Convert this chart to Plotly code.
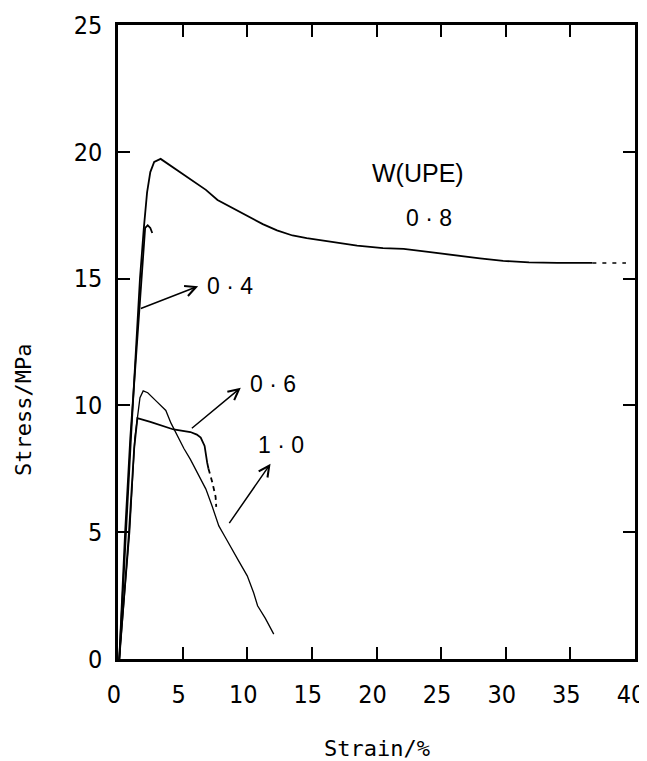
import plotly.graph_objects as go

# ---- data ----
s08_x = [0.1, 0.6, 1.0, 1.4, 1.7, 2.0, 2.25, 2.5, 2.8, 3.3, 4.2, 5.6, 6.8, 7.7, 8.8, 10.0,
         11.2, 12.3, 13.5, 14.6, 16.4, 17.2, 18.5, 20.5, 22.1, 24.0, 26.2, 28.0, 29.8, 31.8, 34.0, 36.7]
s08_y = [0.0, 5.0, 8.7, 12.3, 15.0, 17.0, 18.4, 19.2, 19.6, 19.72, 19.4, 18.9, 18.5, 18.1, 17.8, 17.45,
         17.15, 16.9, 16.7, 16.6, 16.45, 16.4, 16.3, 16.2, 16.17, 16.05, 15.9, 15.8, 15.7, 15.64, 15.62, 15.62]
s08_tail_x = [36.7, 39.3]
s08_tail_y = [15.62, 15.62]

s04_x = [0.1, 0.55, 0.95, 1.65, 2.1, 2.3, 2.5, 2.65]
s04_y = [0.0, 5.0, 8.7, 13.8, 17.0, 17.1, 17.0, 16.8]

s06_x = [0.1, 0.85, 1.25, 1.5, 2.5, 3.5, 4.3, 5.6, 6.1, 6.4, 6.7, 6.9, 7.0]
s06_y = [0.0, 5.0, 8.3, 9.5, 9.35, 9.2, 9.05, 8.95, 8.85, 8.73, 8.4, 7.74, 7.5]
s06_tail_x = [7.0, 7.3, 7.55, 7.6]
s06_tail_y = [7.5, 6.96, 6.4, 6.0]

s10_x = [0.1, 0.9, 1.3, 1.7, 1.95, 2.3, 3.0, 3.7, 4.1, 4.6, 5.1, 5.6, 6.2, 6.8, 7.3, 7.8,
         8.3, 8.7, 9.3, 10.0, 10.5, 10.8, 11.4, 12.05]
s10_y = [0.0, 5.0, 8.7, 10.3, 10.57, 10.5, 10.15, 9.8, 9.3, 8.79, 8.3, 7.87, 7.3, 6.7, 6.0, 5.25,
         4.8, 4.46, 3.9, 3.28, 2.6, 2.1, 1.6, 0.98]

x_ticks = [0, 5, 10, 15, 20, 25, 30, 35, 40]
y_ticks = [0, 5, 10, 15, 20, 25]

labels = ["0 · 4", "0 · 6", "1 · 0"]
label_x = [8.7, 12.0, 12.6]
label_y = [14.72, 10.83, 8.43]
arrow_tail_x = [1.65, 5.6, 8.53]
arrow_tail_y = [13.8, 9.05, 5.3]
arrow_head_x = [6.2, 9.5, 11.8]
arrow_head_y = [14.7, 10.7, 7.7]

line_style = dict(color="black", width=1.8)

fig = go.Figure()
fig.add_trace(go.Scatter(x=s08_x, y=s08_y, mode="lines", line=line_style, name="0.8"))
fig.add_trace(go.Scatter(x=s08_tail_x, y=s08_tail_y, mode="lines",
                         line=dict(color="black", width=1.5, dash="4px,6px"), name="0.8 tail"))
fig.add_trace(go.Scatter(x=s04_x, y=s04_y, mode="lines", line=line_style, name="0.4"))
fig.add_trace(go.Scatter(x=s06_x, y=s06_y, mode="lines", line=line_style, name="0.6"))
fig.add_trace(go.Scatter(x=s06_tail_x, y=s06_tail_y, mode="lines",
                         line=dict(color="black", width=1.8, dash="5px,4px"), name="0.6 tail"))
fig.add_trace(go.Scatter(x=s10_x, y=s10_y, mode="lines", line=dict(color="black", width=1.3), name="1.0"))

label_font = dict(family="Liberation Sans, Arial, sans-serif", size=23, color="black")
ann = []
for t, lx, ly in zip(labels, label_x, label_y):
    ann.append(dict(x=lx, y=ly, xref="x", yref="y", text=t, showarrow=False, font=label_font))
for tx, ty, hx, hy in zip(arrow_tail_x, arrow_tail_y, arrow_head_x, arrow_head_y):
    ann.append(dict(x=hx, y=hy, ax=tx, ay=ty, xref="x", yref="y", axref="x", ayref="y",
                    text="", showarrow=True, arrowhead=5, arrowsize=1.4, arrowwidth=1.5,
                    arrowcolor="black", standoff=0, startstandoff=0))
ann.append(dict(x=23.2, y=19.18, xref="x", yref="y", text="W(UPE)", showarrow=False,
                font=dict(family="Liberation Sans, Arial, sans-serif", size=25, color="black")))
ann.append(dict(x=24.1, y=17.4, xref="x", yref="y", text="0 · 8", showarrow=False, font=label_font))

title_font = dict(family="DejaVu Sans Mono, monospace", size=22, color="black")
# plot area: 517 px wide, 634 px tall
ann.append(dict(x=(377 - 118) / 517, y=(659 - 748) / 634, xref="paper", yref="paper", text="Strain/%",
                showarrow=False, font=title_font, xanchor="center", yanchor="middle"))
ann.append(dict(x=(23 - 118) / 517, y=(659 - 410) / 634, xref="paper", yref="paper", text="Stress/MPa",
                showarrow=False, font=title_font, textangle=-90, xanchor="center", yanchor="middle"))

tick_font = dict(family="Liberation Sans Narrow, DejaVu Sans Condensed, sans-serif", size=25, color="black")

# the page body adds an 8 px margin, so the figure is sized/margined to compensate
fig.update_layout(
    width=639, height=753,
    margin=dict(l=110, r=12, t=17, b=102),
    paper_bgcolor="white", plot_bgcolor="white",
    showlegend=False,
    annotations=ann,
    xaxis=dict(range=[0, 40], tickvals=x_ticks, ticks="inside", ticklen=12, tickwidth=2,
               tickcolor="black", showline=True, linecolor="black", linewidth=2.5, mirror="ticks",
               showgrid=False, zeroline=False, tickfont=tick_font, automargin=False,
               ticklabeloverflow="allow", ticklabelstandoff=11, ticklabelshift=-4),
    yaxis=dict(range=[0, 25], tickvals=y_ticks, ticks="inside", ticklen=12, tickwidth=2,
               tickcolor="black", showline=True, linecolor="black", linewidth=2.5, mirror="ticks",
               showgrid=False, zeroline=False, tickfont=tick_font, automargin=False,
               ticklabeloverflow="allow", ticklabelstandoff=8),
)

fig.write_html("out.html")
